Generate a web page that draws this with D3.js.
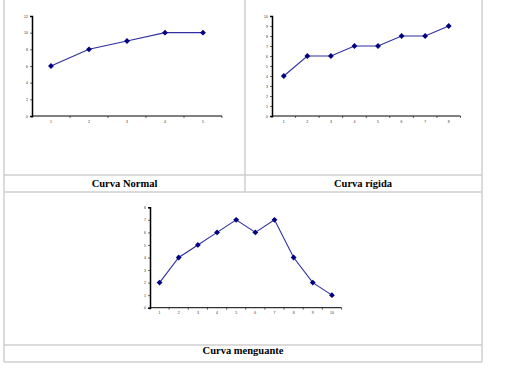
<!DOCTYPE html>
<html><head><meta charset="utf-8">
<script src="https://cdn.jsdelivr.net/npm/d3@7"></script>
<style>html,body{margin:0;padding:0;background:#fff;}svg{display:block;}</style>
</head><body>
<svg id="c" width="505" height="365"></svg>
<script>
// ---- data ----
const normalCats = ["1","2","3","4","5"];
const normalVals = [6, 8, 9, 10, 10];
const normalTicks = [0, 2, 4, 6, 8, 10, 12];

const rigidaCats = ["1","2","3","4","5","6","7","8"];
const rigidaVals = [4, 6, 6, 7, 7, 8, 8, 9];
const rigidaTicks = [0,1,2,3,4,5,6,7,8,9,10];

const menguanteCats = ["1","2","3","4","5","6","7","8","9","10"];
const menguanteVals = [2, 4, 5, 6, 7, 6, 7, 4, 2, 1];
const menguanteTicks = [0,1,2,3,4,5,6,7,8];

const titles = ["Curva Normal", "Curva rígida", "Curva menguante"];

const svg = d3.select("#c");
const grid = "#cfcfcf";

// table borders
const g0 = svg.append("g").attr("stroke", grid).attr("stroke-width", 1.5).attr("fill","none");
[[4,0,4,362],[482,0,482,362],[245,0,245,192],[4,175,482,175],[4,192,482,192],[4,345,482,345],[4,362,482,362]]
  .forEach(l => g0.append("line").attr("x1",l[0]).attr("y1",l[1]).attr("x2",l[2]).attr("y2",l[3]));

function chart(cats, vals, ticks, box) {
  const g = svg.append("g");
  const x = d3.scaleBand().domain(cats).range([box.x0, box.x1]);
  const y = d3.scaleLinear().domain([ticks[0], ticks[ticks.length-1]]).range([box.y1, box.y0]);
  // y axis
  const ya = g.append("g").attr("transform", `translate(${box.x0},0)`)
    .call(d3.axisLeft(y).tickValues(ticks).tickSize(2).tickPadding(2));
  ya.select(".domain").attr("stroke","#000").attr("stroke-width",1.5);
  ya.selectAll(".tick line").attr("stroke","#000").attr("stroke-width",0.6);
  ya.selectAll("text").attr("font-size",3.5).attr("font-family","Liberation Sans").attr("fill","#333");
  // x axis: ticks at band boundaries
  const xa = g.append("g").attr("transform", `translate(0,${box.y1})`);
  xa.append("line").attr("x1",box.x0).attr("x2",box.x1).attr("stroke","#000").attr("stroke-width",1);
  const bounds = cats.map(c => x(c)).concat([box.x1]);
  xa.selectAll("line.t").data(bounds).join("line").attr("class","t")
    .attr("x1",d=>d).attr("x2",d=>d).attr("y1",0).attr("y2",2).attr("stroke","#000").attr("stroke-width",0.6);
  xa.selectAll("text").data(cats).join("text")
    .attr("x", d => x(d) + x.bandwidth()/2).attr("y", 6.5)
    .attr("text-anchor","middle").attr("font-size",3.5).attr("font-family","Liberation Sans").attr("fill","#333")
    .text(d => d);
  // line
  const pts = cats.map((c,i) => [x(c) + x.bandwidth()/2, y(vals[i])]);
  g.append("path").attr("d", d3.line()(pts)).attr("fill","none").attr("stroke","#2e2e9e").attr("stroke-width",1.1);
  g.selectAll("path.m").data(pts).join("path").attr("class","m")
    .attr("transform", d => `translate(${d[0]},${d[1]}) rotate(45)`)
    .attr("d", d3.symbol(d3.symbolSquare, 17)()).attr("fill","#000080");
}

chart(normalCats, normalVals, normalTicks, {x0:32, x1:222, y0:16, y1:116});
chart(rigidaCats, rigidaVals, rigidaTicks, {x0:272, x1:460.5, y0:16, y1:116});
chart(menguanteCats, menguanteVals, menguanteTicks, {x0:150, x1:341.5, y0:207.3, y1:307.7});

// titles
const tpos = [[124.5,187.3],[363,187.3],[243,354]];
titles.forEach((t,i) => svg.append("text").attr("x",tpos[i][0]).attr("y",tpos[i][1])
  .attr("text-anchor","middle").attr("font-family","Liberation Serif").attr("font-weight","bold")
  .attr("font-size",10.5).attr("fill","#000").text(t));
</script>
</body></html>
